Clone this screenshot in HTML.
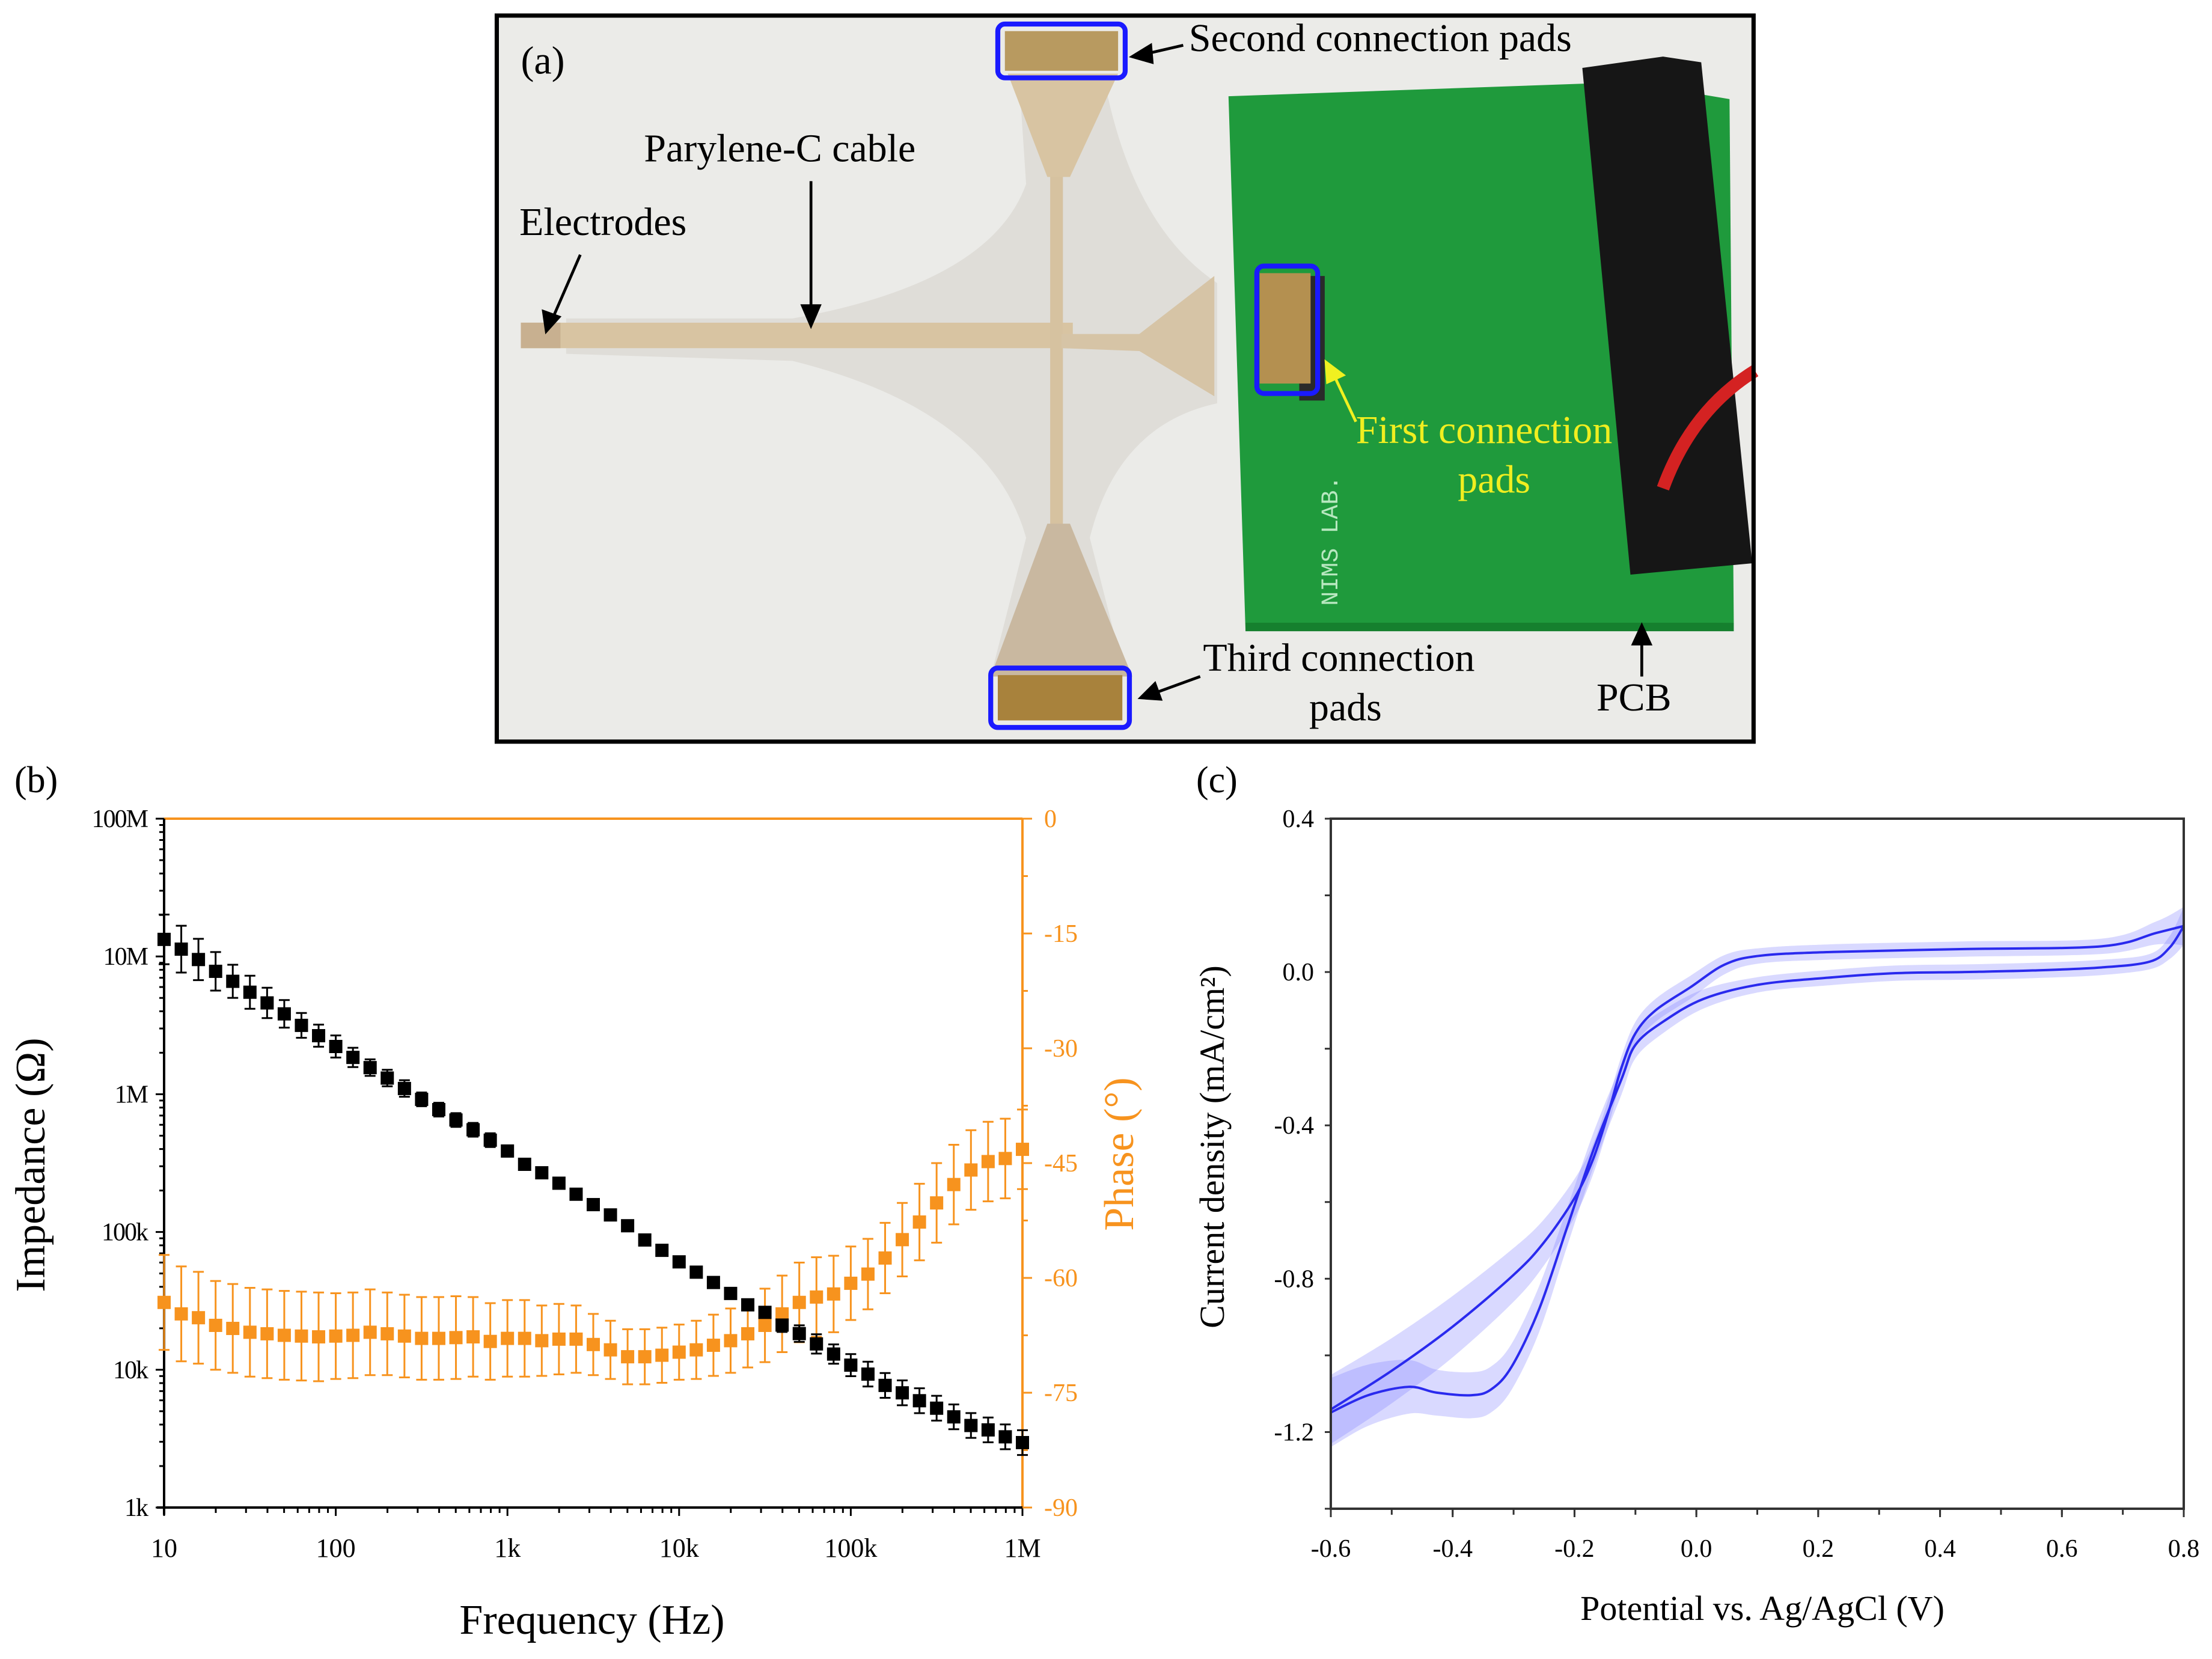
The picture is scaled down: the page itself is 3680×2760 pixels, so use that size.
<!DOCTYPE html>
<html><head><meta charset="utf-8"><style>
html,body{margin:0;padding:0;background:#fff;}
svg{display:block;font-family:"Liberation Serif",serif;}
</style></head><body>
<svg id="fig" width="3680" height="2760" viewBox="0 0 3680 2760" xmlns="http://www.w3.org/2000/svg">
<rect width="3680" height="2760" fill="#fff"/>
<!-- Panel (a): photo -->
<g transform="scale(2.3546)">
  <rect x="352" y="12" width="886" height="511" fill="#ebebe8"/>
  <path d="M720,55 L780,55 Q800,160 860,200 L860,285 Q790,300 770,380 L795,478 L700,478 L725,380 Q700,290 560,255 L400,250 L400,225 L560,225 Q700,200 725,130 Z" fill="#dedcd6" opacity="0.9"/>
  <rect x="368" y="228" width="390" height="18" fill="#d8c4a2"/>
  <rect x="368" y="228" width="28" height="18" fill="#c8b090"/>
  <rect x="742" y="55" width="9" height="425" fill="#d6c2a0"/>
  <polygon points="712,52 790,52 756,125 740,125" fill="#d8c4a2"/>
  <polygon points="740,370 756,370 800,478 700,478" fill="#c9b8a0"/>
  <polygon points="750,236 805,236 858,195 858,280 805,248 750,246" fill="#d6c4a6"/>
  <polygon points="868,68 1150,58 1222,70 1225,440 880,445" fill="#1f9a3c"/>
  <rect x="880" y="440" width="345" height="6" fill="#15802e"/>
  <polygon points="1118,48 1175,40 1202,44 1238,398 1152,406" fill="#161616"/>
  <path d="M1240,262 Q1195,290 1175,345" stroke="#d42222" stroke-width="9" fill="none"/>
  <rect x="918" y="195" width="18" height="88" fill="#2a2a2a"/>
  <rect x="890" y="193" width="36" height="78" fill="#b49050"/>
  <rect x="710" y="22" width="80" height="28" fill="#b89a60"/>
  <rect x="705" y="477" width="88" height="32" fill="#a8823c"/>
  <text x="945" y="428" font-family="Liberation Mono,monospace" font-size="17" fill="#b8e8c0" transform="rotate(-90 945 428)">NIMS LAB.</text>
  <rect x="705" y="17" width="90" height="38" rx="5" fill="none" stroke="#1a1aff" stroke-width="3.5"/>
  <rect x="888" y="188" width="43" height="90" rx="5" fill="none" stroke="#1a1aff" stroke-width="3.5"/>
  <rect x="700" y="472" width="98" height="42" rx="5" fill="none" stroke="#1a1aff" stroke-width="3.5"/>
  <g stroke="#000" stroke-width="2" fill="#000">
    <line x1="410" y1="180" x2="390" y2="226"/><polygon points="386,234 384,220 395,224" />
    <line x1="573" y1="128" x2="573" y2="220"/><polygon points="573,230 567,216 579,216"/>
    <line x1="836" y1="32" x2="810" y2="38"/><polygon points="800,40 813,32 814,44"/>
    <line x1="848" y1="478" x2="815" y2="490"/><polygon points="806,493 816,483 820,494"/>
    <line x1="1160" y1="478" x2="1160" y2="452"/><polygon points="1160,442 1154,455 1166,455"/>
  </g>
  <g stroke="#f0f020" stroke-width="2" fill="#f0f020">
    <line x1="958" y1="298" x2="942" y2="264"/><polygon points="937,256 949,265 938,270"/>
  </g>
  <g font-size="28" fill="#000">
    <text x="368" y="52">(a)</text>
    <text x="367" y="166">Electrodes</text>
    <text x="455" y="114">Parylene-C cable</text>
    <text x="840" y="36">Second connection pads</text>
    <text x="850" y="474">Third connection</text>
    <text x="925" y="509">pads</text>
    <text x="1128" y="502">PCB</text>
    <text x="958" y="313" fill="#f0ee20">First connection</text>
    <text x="1030" y="348" fill="#f0ee20">pads</text>
  </g>
  <rect x="351" y="11" width="888" height="513" fill="none" stroke="#000" stroke-width="3"/>
</g>
<g id="pb"></g>
<g id="pc"></g>
</svg>
<script>
// ---------- Panel (b) data ----------
const freqExp = [];
for (let i = 0; i <= 50; i++) freqExp.push(1 + i / 10);
const impedance = [13.3e6,11.3e6,9.5e6,7.8e6,6.6e6,5.5e6,4.6e6,3.83e6,3.16e6,2.66e6,2.22e6,1.85e6,1.56e6,1.31e6,1.10e6,918e3,773e3,650e3,552e3,464e3,387e3,310e3,269e3,226e3,188e3,158e3,133e3,111e3,87.5e3,73.6e3,60.7e3,51.1e3,43e3,35.8e3,29.6e3,26.1e3,21.1e3,18.3e3,15.4e3,13e3,10.8e3,9.3e3,7.7e3,6.8e3,5.96e3,5.26e3,4.55e3,3.94e3,3.66e3,3.26e3,2.96e3];
const impErrLog = [0.18,0.17,0.15,0.14,0.12,0.12,0.11,0.1,0.09,0.08,0.08,0.07,0.06,0.06,0.06,0.05,0.05,0.05,0.05,0.05,0.04,0.03,0.03,0.03,0.03,0.03,0.02,0.02,0.02,0.02,0.02,0.02,0.02,0.03,0.03,0.04,0.05,0.06,0.07,0.07,0.08,0.09,0.09,0.09,0.09,0.09,0.09,0.09,0.09,0.09,0.09];
const phase = [-63.2,-64.7,-65.2,-66.2,-66.6,-67.1,-67.3,-67.5,-67.6,-67.7,-67.6,-67.5,-67.1,-67.3,-67.6,-67.9,-67.9,-67.8,-67.7,-68.3,-67.9,-67.9,-68.2,-68.0,-68.0,-68.7,-69.4,-70.3,-70.3,-70.1,-69.7,-69.4,-68.8,-68.2,-67.3,-66.2,-64.7,-63.2,-62.5,-62.1,-60.7,-59.5,-57.4,-55.0,-52.7,-50.2,-47.8,-45.9,-44.8,-44.4,-43.2];
const phaseErr = [6.2,6.2,6.0,5.8,5.8,5.8,5.8,5.8,5.8,5.8,5.6,5.6,5.6,5.4,5.4,5.4,5.4,5.4,5.2,5.0,5.0,5.0,4.6,4.6,4.4,4.0,3.8,3.6,3.6,3.6,3.6,3.8,4.0,4.2,4.4,4.8,5.0,5.2,5.2,5.0,4.8,4.6,4.6,4.8,5.0,5.2,5.2,5.2,5.2,5.2,5.2];
const xTickLabels = ["10","100","1k","10k","100k","1M"];
const yTickLabels = ["1k","10k","100k","1M","10M","100M"];
const phaseTicks = [0,-15,-30,-45,-60,-75,-90];

// ---------- Panel (c) data ----------
const cvUpperX = [-0.6,-0.5,-0.4,-0.3,-0.25,-0.2,-0.17,-0.145,-0.123,-0.1,-0.067,-0.01,0.046,0.102,0.215,0.44,0.665,0.755,0.8];
const cvUpperY = [-1.141,-1.04,-0.925,-0.79,-0.705,-0.59,-0.49,-0.37,-0.25,-0.16,-0.1,-0.04,0.019,0.042,0.052,0.06,0.067,0.102,0.12];
const cvUpperBand = [0.09,0.085,0.08,0.07,0.06,0.05,0.04,0.035,0.03,0.03,0.03,0.03,0.025,0.02,0.02,0.02,0.02,0.03,0.05];
const cvLowerX = [-0.6,-0.539,-0.472,-0.427,-0.37,-0.337,-0.303,-0.258,-0.213,-0.168,-0.123,-0.1,-0.055,0.012,0.102,0.215,0.327,0.44,0.552,0.665,0.744,0.777,0.8];
const cvLowerY = [-1.149,-1.104,-1.082,-1.097,-1.104,-1.089,-1.029,-0.879,-0.67,-0.46,-0.28,-0.19,-0.13,-0.07,-0.033,-0.015,-0.003,0.0,0.004,0.012,0.027,0.064,0.12];
const cvLowerBand = [0.09,0.08,0.07,0.06,0.06,0.06,0.06,0.06,0.05,0.045,0.04,0.035,0.03,0.025,0.02,0.02,0.02,0.02,0.02,0.02,0.02,0.03,0.05];
const cvXTicks = [-0.6,-0.4,-0.2,0.0,0.2,0.4,0.6,0.8];
const cvYTicks = [0.4,0.0,-0.4,-0.8,-1.2];

const NS = "http://www.w3.org/2000/svg";
function mk(parent, tag, attrs, text) {
  const e = document.createElementNS(NS, tag);
  for (const k in attrs) e.setAttribute(k, attrs[k]);
  if (text !== undefined) e.textContent = text;
  parent.appendChild(e);
  return e;
}

// ---------- Panel (b) drawing ----------
(function(){
  const g = document.getElementById('pb');
  const L = 273, R = 1701, T = 1362, B = 2508;
  const xS = e => L + (e - 1) / 5 * (R - L);
  const yS = v => B - (Math.log10(v) - 3) / 5 * (B - T);
  const pS = p => T + (-p) / 90 * (B - T);
  const OR = "#f7931e";
  let e;
  e = mk(g, 'line', {x1:L, y1:T, x2:R, y2:T, stroke:OR, 'stroke-width':4});
  
  
  e = mk(g, 'line', {x1:R, y1:T, x2:R, y2:B, stroke:OR, 'stroke-width':4});
  
  
  e = mk(g, 'line', {x1:L, y1:T, x2:L, y2:B+12, stroke:'#000', 'stroke-width':4});
  
  
  e = mk(g, 'line', {x1:L-12, y1:B, x2:R, y2:B, stroke:'#000', 'stroke-width':4});
  
  
  for (let d = 0; d < 5; d++) {
    for (let m = 2; m <= 9; m++) {
      const x = xS(1 + d + Math.log10(m));
      mk(g, 'line', {x1:x, y1:B, x2:x, y2:B+9, stroke:'#000', 'stroke-width':3});
    }
  }
  xTickLabels.forEach((t, i) => {
    const x = xS(1 + i);
    mk(g, 'line', {x1:x, y1:B, x2:x, y2:B+14, stroke:'#000', 'stroke-width':3});
    e = mk(g, 'text', {x:x, y:2590, 'font-size':44, 'text-anchor':'middle', fill:'#000'}, t);
    
    
  });
  for (let d = 0; d < 5; d++) {
    for (let m = 2; m <= 9; m++) {
      const y = yS(Math.pow(10, 3 + d) * m);
      mk(g, 'line', {x1:L-8, y1:y, x2:L, y2:y, stroke:'#000', 'stroke-width':3});
    }
  }
  yTickLabels.forEach((t, i) => {
    const y = yS(Math.pow(10, 3 + i));
    mk(g, 'line', {x1:L-14, y1:y, x2:L, y2:y, stroke:'#000', 'stroke-width':3});
    e = mk(g, 'text', {x:L-28, y:y+14, 'font-size':42, 'text-anchor':'end', fill:'#000', 'letter-spacing':'-2'}, t);
    
    
  });
  phaseTicks.forEach(p => {
    const y = pS(p);
    mk(g, 'line', {x1:R, y1:y, x2:R+16, y2:y, stroke:OR, 'stroke-width':3});
    e = mk(g, 'text', {x:R+36, y:y+14, 'font-size':42, fill:OR}, String(p));
    
    
  });
  for (let i = 0; i < phaseTicks.length - 1; i++) {
    const y = pS((phaseTicks[i] + phaseTicks[i+1]) / 2);
    mk(g, 'line', {x1:R, y1:y, x2:R+9, y2:y, stroke:OR, 'stroke-width':3});
  }
  freqExp.forEach((fe, i) => {
    const x = xS(fe), y1 = pS(phase[i] + phaseErr[i]), y2 = pS(phase[i] - phaseErr[i]);
    e = mk(g, 'path', {d:`M${x},${y1}V${y2}M${x-9},${y1}H${x+9}M${x-9},${y2}H${x+9}`, stroke:OR, 'stroke-width':3, fill:'none'});
    
    
  });
  freqExp.forEach((fe, i) => {
    const x = xS(fe), y1 = yS(impedance[i] * Math.pow(10, impErrLog[i])), y2 = yS(impedance[i] / Math.pow(10, impErrLog[i]));
    e = mk(g, 'path', {d:`M${x},${y1}V${y2}M${x-9},${y1}H${x+9}M${x-9},${y2}H${x+9}`, stroke:'#000', 'stroke-width':3, fill:'none'});
    
    
  });
  freqExp.forEach((fe, i) => {
    e = mk(g, 'rect', {x:xS(fe)-11, y:pS(phase[i])-11, width:22, height:22, fill:OR});
    
    
  });
  freqExp.forEach((fe, i) => {
    e = mk(g, 'rect', {x:xS(fe)-11, y:yS(impedance[i])-11, width:22, height:22, fill:'#000'});
    
    
  });
  e = mk(g, 'text', {x:24, y:1318, 'font-size':62, fill:'#000'}, '(b)');
  
  
  e = mk(g, 'text', {x:74, y:1938, 'font-size':70, 'text-anchor':'middle', fill:'#000', transform:'rotate(-90 74 1938)'}, 'Impedance (Ω)');
  
  
  e = mk(g, 'text', {x:985, y:2718, 'font-size':70, 'text-anchor':'middle', fill:'#000'}, 'Frequency (Hz)');
  
  
  e = mk(g, 'text', {x:1885, y:1920, 'font-size':70, 'text-anchor':'middle', fill:OR, transform:'rotate(-90 1885 1920)'}, 'Phase (°)');
  
  
})();

// ---------- Panel (c) drawing ----------
(function(){
  const g = document.getElementById('pc');
  const L = 2214, R = 3633, T = 1362, B = 2510;
  const xS = v => L + (v + 0.6) / 1.4 * (R - L);
  const yS = v => B - (v + 1.4) / 1.8 * (B - T);
  let e;
  function smooth(pts) {
    let d = `M${pts[0][0]},${pts[0][1]}`;
    for (let i = 0; i < pts.length - 1; i++) {
      const p0 = pts[Math.max(0, i-1)], p1 = pts[i], p2 = pts[i+1], p3 = pts[Math.min(pts.length-1, i+2)];
      const c1 = [p1[0] + (p2[0]-p0[0])/6, p1[1] + (p2[1]-p0[1])/6];
      const c2 = [p2[0] - (p3[0]-p1[0])/6, p2[1] - (p3[1]-p1[1])/6];
      d += `C${c1[0]},${c1[1]} ${c2[0]},${c2[1]} ${p2[0]},${p2[1]}`;
    }
    return d;
  }
  function band(xs, ys, bs, name) {
    const up = xs.map((x, i) => [xS(x), yS(ys[i] + bs[i])]);
    const lo = xs.map((x, i) => [xS(x), yS(ys[i] - bs[i])]).reverse();
    const d = smooth(up) + smooth(lo).replace('M', 'L') + 'Z';
    const el = mk(g, 'path', {d:d, fill:'#8080ff', 'fill-opacity':0.3, stroke:'none'});
    
    
  }
  band(cvUpperX, cvUpperY, cvUpperBand, 'cv-upper-band');
  band(cvLowerX, cvLowerY, cvLowerBand, 'cv-lower-band');
  e = mk(g, 'path', {d:smooth(cvUpperX.map((x, i) => [xS(x), yS(cvUpperY[i])])), fill:'none', stroke:'#2a2aee', 'stroke-width':4});
  
  
  e = mk(g, 'path', {d:smooth(cvLowerX.map((x, i) => [xS(x), yS(cvLowerY[i])])), fill:'none', stroke:'#2a2aee', 'stroke-width':4});
  
  
  e = mk(g, 'rect', {x:L, y:T, width:R-L, height:B-T, fill:'none', stroke:'#333', 'stroke-width':4});
  
  
  for (let v = -0.6; v <= 0.81; v += 0.1) {
    mk(g, 'line', {x1:xS(v), y1:B, x2:xS(v), y2:B+10, stroke:'#333', 'stroke-width':3});
  }
  cvXTicks.forEach(v => {
    mk(g, 'line', {x1:xS(v), y1:B, x2:xS(v), y2:B+14, stroke:'#333', 'stroke-width':3});
    e = mk(g, 'text', {x:xS(v), y:2590, 'font-size':42, 'text-anchor':'middle', fill:'#000'}, v.toFixed(1));
    
    
  });
  for (let v = -1.4; v <= 0.41; v += 0.2) {
    mk(g, 'line', {x1:L-10, y1:yS(v), x2:L, y2:yS(v), stroke:'#333', 'stroke-width':3});
  }
  cvYTicks.forEach(v => {
    e = mk(g, 'text', {x:L-28, y:yS(v)+14, 'font-size':42, 'text-anchor':'end', fill:'#000'}, v.toFixed(1));
    
    
  });
  e = mk(g, 'text', {x:1990, y:1318, 'font-size':62, fill:'#000'}, '(c)');
  
  
  e = mk(g, 'text', {x:2036, y:1908, 'font-size':58, 'text-anchor':'middle', fill:'#000', transform:'rotate(-90 2036 1908)'}, 'Current density (mA/cm²)');
  
  
  e = mk(g, 'text', {x:2932, y:2695, 'font-size':58, 'text-anchor':'middle', fill:'#000'}, 'Potential vs. Ag/AgCl (V)');
  
  
})();
</script>
</body></html>
